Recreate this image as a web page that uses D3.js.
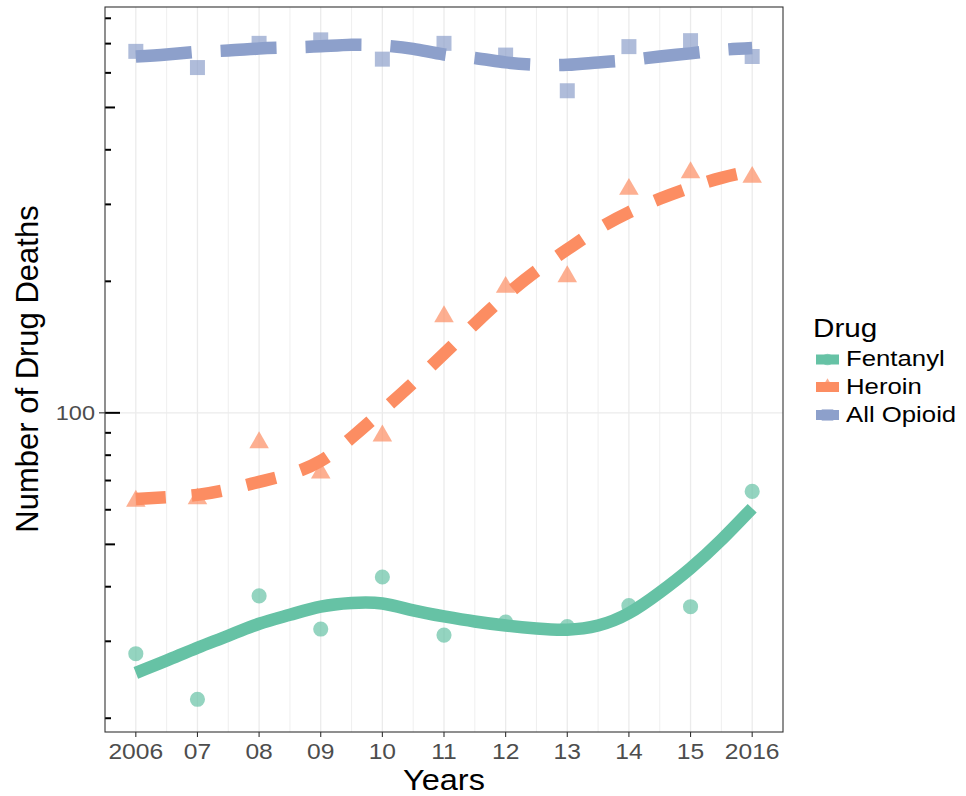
<!DOCTYPE html>
<html>
<head>
<meta charset="utf-8">
<script src="https://cdn.jsdelivr.net/npm/d3@7"></script>
<style>
  body { margin: 0; background: #fff; }
  text { font-family: "Liberation Sans", Arial, sans-serif; }
</style>
</head>
<body>
<div id="chart"></div>
<script>
"use strict"

/* data */
const years = [2006, 2007, 2008, 2009, 2010, 2011, 2012, 2013, 2014, 2015, 2016];
const yearLabels = ["2006", "07", "08", "09", "10", "11", "12", "13", "14", "15", "2016"];

const fentanylPts = [28.1, 22.1, 38.1, 32.0, 42.1, 31.0, 33.2, 32.4, 36.2, 36.0, 66.1];
const heroinPts = [62.8, 63.6, 85.5, 72.9, 88.6, 166.1, 193.9, 205.0, 325.0, 354.8, 346.2];
const opioidPts = [672, 617, 701, 714, 645, 701, 659, 546, 689, 711, 654];

/* smoothed curves, read every half year */
const smoothYears = [2006, 2006.5, 2007, 2007.5, 2008, 2008.5, 2009, 2009.5, 2010, 2010.5, 2011,
  2011.5, 2012, 2012.5, 2013, 2013.5, 2014, 2014.5, 2015, 2015.5, 2016];
const fentanylSmooth = [25.4, 27.1, 29.0, 30.9, 32.9, 34.5, 36.0, 36.7, 36.6, 35.3, 34.2,
  33.3, 32.6, 32.1, 31.9, 32.6, 34.8, 38.8, 44.1, 51.2, 60.5];
const heroinSmooth = [63.5, 64.1, 64.9, 66.8, 69.5, 72.5, 77.6, 87.7, 101.1, 117.1, 136.5,
  159.8, 185.4, 211.3, 236.6, 263.6, 287.7, 309, 328, 345, 357.9];
const opioidSmooth = [654, 661, 670, 675, 682, 686, 690, 696, 693, 681, 661,
  649, 634, 626, 626, 634, 642, 654, 665, 677, 684];

const drugs = ["Fentanyl", "Heroin", "All Opioid"];

const logTickValues = [20, 30, 40, 50, 60, 70, 80, 90, 100, 200, 300, 400, 500, 600, 700, 800];

/* layout */
const W = 966, H = 796;
const pLeft = 105, pRight = 783, pTop = 7, pBottom = 732;
const SX = 1.12; // the picture is a little stretched sideways
const colors = ["#66c2a5", "#fc8d62", "#8da0cb"];
const dashes = [null, "30,26", "56,29"];
const shapes = [d3.symbolCircle, d3.symbolTriangle, d3.symbolSquare];
const shapeSizes = [180, 165, 225];

let svg = d3.select("#chart").append("svg")
  .attr("width", W)
  .attr("height", H);

let x = d3.scaleLinear().domain([2005.5, 2016.5]).range([pLeft, pRight]);
let y = d3.scaleLog().domain([18.6, 849]).range([pBottom, pTop]);

/* grid */
let minorYears = [2006.5, 2007.5, 2008.5, 2009.5, 2010.5, 2011.5, 2012.5, 2013.5, 2014.5, 2015.5];
svg.append("g").selectAll("line")
  .data(minorYears)
  .join("line")
  .attr("x1", d => x(d)).attr("x2", d => x(d))
  .attr("y1", pTop).attr("y2", pBottom)
  .attr("stroke", "#ebebeb")
  .attr("stroke-width", 0.8);

svg.append("g").selectAll("line")
  .data(years)
  .join("line")
  .attr("x1", d => x(d)).attr("x2", d => x(d))
  .attr("y1", pTop).attr("y2", pBottom)
  .attr("stroke", "#ebebeb")
  .attr("stroke-width", 1.3);

svg.append("line")
  .attr("x1", pLeft).attr("x2", pRight)
  .attr("y1", y(100)).attr("y2", y(100))
  .attr("stroke", "#ebebeb")
  .attr("stroke-width", 1.3);

/* points */
let pointSets = [fentanylPts, heroinPts, opioidPts];
pointSets.forEach((vals, i) => {
  svg.append("g").selectAll("path")
    .data(vals)
    .join("path")
    .attr("transform", (d, j) => `translate(${x(years[j])},${y(d)})`)
    .attr("d", d3.symbol().type(shapes[i]).size(shapeSizes[i]))
    .attr("fill", colors[i])
    .attr("fill-opacity", 0.7);
});

/* smooth lines */
let smoothSets = [fentanylSmooth, heroinSmooth, opioidSmooth];
let line = d3.line()
  .x((d, j) => x(smoothYears[j]))
  .y(d => y(d))
  .curve(d3.curveNatural);

smoothSets.forEach((vals, i) => {
  svg.append("path")
    .attr("d", line(vals))
    .attr("fill", "none")
    .attr("stroke", colors[i])
    .attr("stroke-width", 12.5)
    .attr("stroke-dasharray", dashes[i]);
});

/* log ticks inside the panel */
svg.append("g").selectAll("line")
  .data(logTickValues)
  .join("line")
  .attr("x1", pLeft)
  .attr("x2", d => {
    let m = d / Math.pow(10, Math.floor(Math.log10(d) + 1e-9));
    let len = Math.abs(m - 1) < 1e-6 ? 15 : (Math.abs(m - 5) < 1e-6 ? 10 : 6);
    return pLeft + len;
  })
  .attr("y1", d => y(d)).attr("y2", d => y(d))
  .attr("stroke", "black")
  .attr("stroke-width", 2);

/* panel border */
svg.append("rect")
  .attr("x", pLeft).attr("y", pTop)
  .attr("width", pRight - pLeft).attr("height", pBottom - pTop)
  .attr("fill", "none")
  .attr("stroke", "#333333")
  .attr("stroke-width", 1.1);

/* x axis */
let xAxis = svg.append("g");
xAxis.selectAll("line")
  .data(years)
  .join("line")
  .attr("x1", d => x(d)).attr("x2", d => x(d))
  .attr("y1", pBottom).attr("y2", pBottom + 5)
  .attr("stroke", "#333333")
  .attr("stroke-width", 1.1);
xAxis.selectAll("text")
  .data(years)
  .join("text")
  .attr("transform", d => `translate(${x(d)},759) scale(${SX},1)`)
  .attr("text-anchor", "middle")
  .attr("font-size", 22)
  .attr("fill", "#4d4d4d")
  .text((d, i) => yearLabels[i]);

/* y axis: only 100 is labelled */
svg.append("line")
  .attr("x1", pLeft - 6).attr("x2", pLeft)
  .attr("y1", y(100)).attr("y2", y(100))
  .attr("stroke", "#333333")
  .attr("stroke-width", 1.1);
svg.append("text")
  .attr("transform", `translate(95,${y(100) + 7.5}) scale(${SX},1)`)
  .attr("text-anchor", "end")
  .attr("font-size", 21)
  .attr("fill", "#4d4d4d")
  .text("100");

/* axis titles */
svg.append("text")
  .attr("transform", `translate(444,790) scale(${SX},1)`)
  .attr("text-anchor", "middle")
  .attr("font-size", 29)
  .attr("fill", "black")
  .text("Years");

svg.append("text")
  .attr("transform", "translate(38,369) rotate(-90)")
  .attr("text-anchor", "middle")
  .attr("font-size", 31)
  .attr("fill", "black")
  .text("Number of Drug Deaths");

/* legend */
let legend = svg.append("g");
legend.append("text")
  .attr("transform", `translate(813,337) scale(${SX},1)`)
  .attr("font-size", 26.5)
  .attr("fill", "black")
  .text("Drug");

let keyY = [359.5, 387, 415];
drugs.forEach((name, i) => {
  legend.append("path")
    .attr("transform", `translate(827.5,${keyY[i]})`)
    .attr("d", d3.symbol().type(shapes[i]).size(shapeSizes[i] * 0.6))
    .attr("fill", colors[i])
    .attr("fill-opacity", 0.7);
  legend.append("rect")
    .attr("x", 816).attr("y", keyY[i] - 5)
    .attr("width", 23).attr("height", 10)
    .attr("fill", colors[i]);
  legend.append("text")
    .attr("transform", `translate(846,${keyY[i] + 6.5}) scale(${SX},1)`)
    .attr("font-size", 23)
    .attr("fill", "black")
    .text(name);
});
</script>
</body>
</html>
